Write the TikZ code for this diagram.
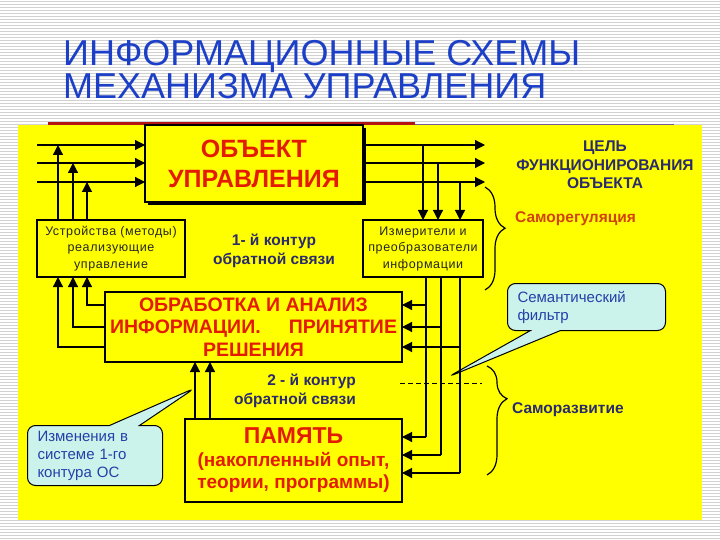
\documentclass[tikz,border=0pt]{standalone}
\usepackage{fontspec}
\setmainfont{Liberation Sans}
\usetikzlibrary{arrows.meta,shadows,shapes.callouts,decorations.pathreplacing}
\definecolor{slideyellow}{HTML}{FFFF00}
\definecolor{titleblue}{HTML}{1C3FC8}
\definecolor{boxred}{HTML}{E41B00}
\definecolor{navytext}{HTML}{2A2A6E}
\definecolor{regorange}{HTML}{D2420E}
\definecolor{calloutfill}{HTML}{CCF2EC}
\definecolor{calloutblue}{HTML}{2340A8}
\definecolor{rulered}{HTML}{B41414}
\definecolor{rulepurple}{HTML}{7A5A9A}
\tikzset{
  stripe/.style={black!18, line width=1.5pt},
  blockbox/.style={draw, line width=2.5pt, fill=slideyellow, anchor=north west,
    inner sep=0pt, outer sep=0pt, align=center},
  smallbox/.style={blockbox, line width=2pt, text=black!85,
    font=\fontsize{12.5}{16.5}\selectfont\addfontfeature{LetterSpace=5}},
  redtext/.style 2 args={text=boxred, font=\bfseries\fontsize{#1}{#2}\selectfont},
  navybold/.style={text=navytext, align=center, inner sep=0pt,
    font=\bfseries\fontsize{15.5}{18.5}\selectfont},
  bubble/.style={rectangle callout, draw, line width=1pt, fill=calloutfill,
    rounded corners=8pt, callout pointer width=30pt, anchor=north west,
    inner xsep=10pt, inner ysep=0pt, align=left, text=calloutblue,
    font=\fontsize{15}{18}\selectfont},
  arr/.style={line width=1.2pt, -{Triangle[length=10pt,width=10pt]}},
  wire/.style={line width=1.2pt},
  bracket/.style={line width=1.2pt, decorate},
}
\begin{document}
\begin{tikzpicture}[x=1pt,y=-1pt]
\useasboundingbox (0,0) rectangle (720,540);
% slide background
\fill[white] (0,0) rectangle (720,540);
\foreach \y in {1.5,4.5,...,540}
  \draw[stripe] (0,\y) -- (720,\y);
\fill[slideyellow] (18,125) rectangle (702,520);
\draw[rulered, line width=3pt] (48,124) -- (415,124);
\draw[rulepurple, line width=0.8pt] (415,124) -- (674,124);
% title
\node[anchor=north west, inner sep=0pt, align=left, text=titleblue,
  font=\fontsize{36}{28.5}\selectfont] (title) at (63,40)
  {ИНФОРМАЦИОННЫЕ СХЕМЫ\\МЕХАНИЗМА УПРАВЛЕНИЯ};
% blocks
\node[blockbox, redtext={25}{30}, minimum width=218pt, minimum height=77pt,
  drop shadow={shadow xshift=3pt, shadow yshift=-3pt, fill=black, opacity=1}]
  (obj) at (145,125) {ОБЪЕКТ\\УПРАВЛЕНИЯ};
\node[smallbox, minimum width=148pt, minimum height=57pt] (dev) at (37,220)
  {Устройства (методы)\\реализующие\\управление};
\node[smallbox, minimum width=120pt, minimum height=57pt] (meas) at (363,220)
  {Измерители и\\преобразователи\\информации};
\node[blockbox, redtext={19.5}{22.5}, minimum width=297pt, minimum height=70pt]
  (proc) at (105,292)
  {ОБРАБОТКА И АНАЛИЗ\\\makebox[287pt]{ИНФОРМАЦИИ.\hfill ПРИНЯТИЕ}\\РЕШЕНИЯ};
\node[blockbox, redtext={19}{22.5}, minimum width=217pt, minimum height=83pt]
  (mem) at (185,419)
  {{\fontsize{23}{26}\selectfont ПАМЯТЬ}\\(накопленный опыт,\\теории, программы)};
% callouts
\node[bubble, callout absolute pointer={(448,377)}, text width=138pt,
  minimum height=47pt] (sem) at (507,283) {Семантический\\фильтр};
\node[bubble, callout absolute pointer={(195,388)}, text width=115pt,
  minimum height=60pt] (chg) at (27,425) {Изменения в\\системе 1-го\\контура ОС};
% labels
\node[navybold] (loop1) at (274,251) {1- й контур\\обратной связи};
\node[navybold, align=right, anchor=east] (loop2) at (356,391)
  {2 - й контур\\обратной связи};
\node[navybold] (goal) at (605,165) {ЦЕЛЬ\\ФУНКЦИОНИРОВАНИЯ\\ОБЪЕКТА};
\node[anchor=west, inner sep=0pt, text=regorange,
  font=\bfseries\fontsize{15.5}{18}\selectfont] (selfreg) at (515,219) {Саморегуляция};
\node[navybold, anchor=west] (selfdev) at (512,410) {Саморазвитие};
% first loop: object inputs and outputs
\foreach \i/\y/\x/\u in {1/145/58/423,2/163/73/438,3/182/87/460}{
  \coordinate (in\i) at (37,\y);
  \coordinate (out\i) at (485,\y);
  \coordinate (dv\i) at (\x,0);
  \coordinate (mv\i) at (\u,0);
  \draw[arr] (in\i) -- (in\i -| obj.west);
  \draw[arr] (dv\i |- dev.north) -- (dv\i |- in\i);
  \draw[arr] (in\i -| obj.east) -- (out\i);
  \draw[arr] (mv\i |- out\i) -- (mv\i |- meas.north);
}
% processing to devices
\foreach \i/\y/\j in {1/305/3,2/327/2,3/347/1}{
  \coordinate (pr\i) at (0,\y);
  \draw[arr] (pr\i -| proc.west) -| (dv\j |- dev.south);
}
% measurement to processing and memory
\foreach \i/\x/\y in {1/426/437,2/441/455,3/460/473}{
  \coordinate (mb\i) at (\x,\y);
  \draw[wire] (mb\i |- meas.south) -- (mb\i);
  \draw[arr] (mb\i) -- (mb\i -| mem.east);
  \draw[arr] (mb\i |- pr\i) -- (pr\i -| proc.east);
}
% second loop: memory to processing
\foreach \x in {195,210}{
  \coordinate (mp) at (\x,0);
  \draw[arr] (mp |- mem.north) -- (mp |- proc.south);
}
\coordinate (dashL) at (400,383);
\coordinate (dashR) at (482,383);
\draw[dashed, line width=0.8pt, dash pattern=on 5pt off 3pt] (dashL) -- (dashR);
% braces
\coordinate (br1t) at (485,187);
\coordinate (br1b) at (485,290);
\coordinate (br2t) at (487,366);
\coordinate (br2b) at (487,475);
\draw[bracket, decoration={brace, amplitude=20pt, aspect=0.4}] (br1t) -- (br1b);
\draw[bracket, decoration={brace, amplitude=20pt, aspect=0.3}] (br2t) -- (br2b);
\end{tikzpicture}
\end{document}
